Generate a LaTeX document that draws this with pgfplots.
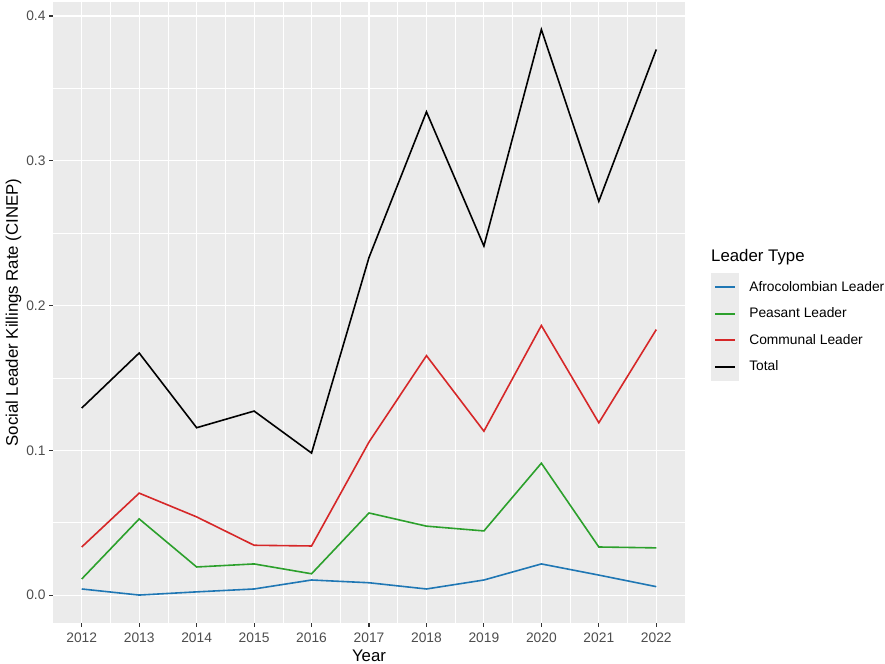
\documentclass[border=0pt]{standalone}
\usepackage{fontspec}
\setmainfont{Liberation Sans}
\usepackage{pgfplots}
\pgfplotsset{compat=1.18}
\definecolor{ggbg}{HTML}{EBEBEB}
\definecolor{afro}{HTML}{1F77B4}
\definecolor{peas}{HTML}{2CA02C}
\definecolor{comm}{HTML}{D62728}
\definecolor{ggtick}{HTML}{4D4D4D}
\definecolor{ggtickmark}{HTML}{333333}
\newcommand\ggkey[1]{%
  \fill[ggbg] (0bp,-12.45bp) rectangle (26.7bp,12.45bp);
  \fill[ggbg, overlay] (0bp,-13.8bp) rectangle (26.7bp,13.8bp);
  \draw[#1, line width=1.6bp] (3.5bp,0bp) -- (23.2bp,0bp);}
\begin{document}
\begin{tikzpicture}[x=1bp,y=1bp]
\path[use as bounding box] (0,0) rectangle (885,664);
\begin{axis}[
  at={(53bp,41bp)}, anchor=south west,
  scale only axis, width=632bp, height=621bp,
  xmin=2011.5, xmax=2022.5, ymin=-0.0193, ymax=0.4097,
  axis background/.style={fill=ggbg},
  axis line style={draw=none},
  xtick={2012,2013,2014,2015,2016,2017,2018,2019,2020,2021,2022},
  ytick={0,0.1,0.2,0.3,0.4},
  minor xtick={2012.5,2013.5,2014.5,2015.5,2016.5,2017.5,2018.5,2019.5,2020.5,2021.5},
  minor ytick={0.05,0.15,0.25,0.35},
  grid=both,
  major grid style={white, line width=1.1bp},
  minor grid style={white, line width=0.55bp},
  xtick pos=bottom, ytick pos=left,
  tick align=outside,
  major tick length=4bp, minor tick length=0bp,
  every tick/.style={ggtickmark, line width=1.1bp},
  /pgf/number format/assume math mode=true,
  tick label style={font=\fontsize{13.8bp}{16bp}\selectfont, text=ggtick},
  x tick label style={/pgf/number format/1000 sep={}, yshift=-2bp},
  y tick label style={/pgf/number format/.cd, fixed, fixed zerofill, precision=1},
  xlabel={Year}, ylabel={Social Leader Killings Rate (CINEP)},
  label style={font=\fontsize{16.8bp}{19bp}\selectfont},
  xlabel style={yshift=-1bp},
  ylabel style={yshift=-2bp},
  legend cell align=left,
  legend style={at={(axis description cs:1.0411,0.5620)}, anchor=north west,
    draw=none, fill=none, inner sep=0pt, outer sep=0pt, row sep=0pt, column sep=10bp,
    font=\fontsize{13.8bp}{16bp}\selectfont,
    nodes={inner sep=0pt, outer sep=0pt}},
]
\addplot[afro, line width=1.6bp, legend image code/.code={\ggkey{afro}}] coordinates {
(2012,0.0042) (2013,0.0000) (2014,0.0022) (2015,0.0042) (2016,0.0104) (2017,0.0085)
(2018,0.0042) (2019,0.0104) (2020,0.0215) (2021,0.0138) (2022,0.0058)};
\addlegendentry{Afrocolombian Leader}
\addplot[peas, line width=1.6bp, legend image code/.code={\ggkey{peas}}] coordinates {
(2012,0.0111) (2013,0.0526) (2014,0.0194) (2015,0.0215) (2016,0.0147) (2017,0.0567)
(2018,0.0476) (2019,0.0443) (2020,0.0911) (2021,0.0332) (2022,0.0326)};
\addlegendentry{Peasant Leader}
\addplot[comm, line width=1.6bp, legend image code/.code={\ggkey{comm}}] coordinates {
(2012,0.0332) (2013,0.0704) (2014,0.0540) (2015,0.0344) (2016,0.0339) (2017,0.1057)
(2018,0.1654) (2019,0.1132) (2020,0.1862) (2021,0.1190) (2022,0.1834)};
\addlegendentry{Communal Leader}
\addplot[black, line width=1.6bp, legend image code/.code={\ggkey{black}}] coordinates {
(2012,0.1292) (2013,0.1672) (2014,0.1156) (2015,0.1271) (2016,0.0981) (2017,0.2332)
(2018,0.3338) (2019,0.2411) (2020,0.3907) (2021,0.2720) (2022,0.3769)};
\addlegendentry{Total}
\end{axis}
\node[anchor=west, inner sep=0pt, font=\fontsize{16.8bp}{19bp}\selectfont]
  at (711bp,407bp) {Leader Type};
\end{tikzpicture}
\end{document}
